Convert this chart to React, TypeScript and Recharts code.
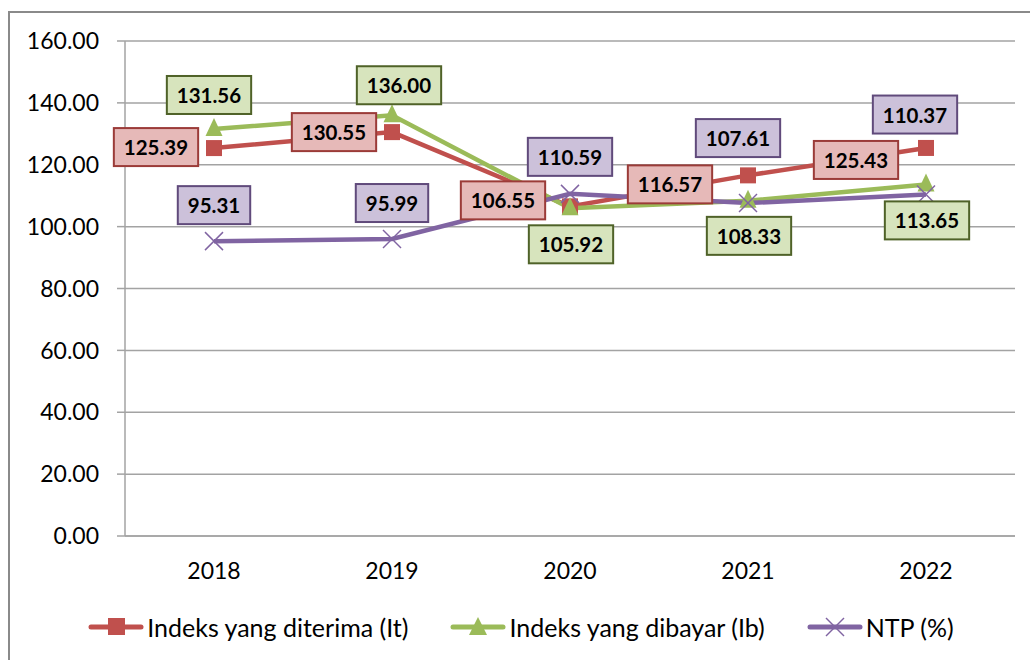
import React from 'react';
import { LineChart, Line, XAxis, YAxis, CartesianGrid, Legend } from 'recharts';

// ---- data ----
const years = ['2018', '2019', '2020', '2021', '2022'];
const indeksDiterima = [125.39, 130.55, 106.55, 116.57, 125.43];
const indeksDibayar = [131.56, 136.0, 105.92, 108.33, 113.65];
const ntpValues = [95.31, 95.99, 110.59, 107.61, 110.37];
const yTicks = [0, 20, 40, 60, 80, 100, 120, 140, 160];
const categoryEdges = [0, 1, 2, 3, 4, 5];
const seriesNames = ['Indeks yang diterima (It)', 'Indeks yang dibayar (Ib)', 'NTP (%)'];

const rows = years.map((year, i) => ({
  year,
  it: indeksDiterima[i],
  ib: indeksDibayar[i],
  ntp: ntpValues[i],
}));

// ---- style ----
const RED = '#C0504D';
const GREEN = '#9BBB59';
const PURPLE = '#8064A2';
const GRID = '#a3a3a3';
const FONT = 'Lato, "Open Sans", sans-serif';

// label box nudges (box centre relative to point), as placed in the original
const redNudge = [[-58, -1], [-58, 0], [-67, -6], [-78, 9], [-70, 12]];
const greenNudge = [[-5, -34], [7, -30], [1, 36], [1, 35], [1, 36]];
const purpleNudge = [[0, -36], [0, -36], [0, -37], [-10, -65], [-11, -80]];

let ctx: CanvasRenderingContext2D | null = null;
function textWidth(s: string, font: string): number {
  if (!ctx) ctx = document.createElement('canvas').getContext('2d');
  if (!ctx) return s.length * 11;
  ctx.font = font;
  return ctx.measureText(s).width;
}

const makeLabel = (fill: string, stroke: string, nudges: number[][], tag: string) => (props: any) => {
  const { x, y, value, index } = props;
  if (x == null || y == null) return null;
  const txt = Number(value).toFixed(2);
  const w = textWidth(txt, 'bold 20.5px Lato') + 20;
  const h = 38;
  const [dx, dy] = nudges[index] || [0, 0];
  const cx = x + dx;
  const cy = y + dy;
  return (
    <g key={`${tag}-${index}`}>
      <rect x={cx - w / 2} y={cy - h / 2} width={w} height={h} fill={fill} stroke={stroke} strokeWidth={2} />
      <text x={cx} y={cy} textAnchor="middle" dominantBaseline="central" fontFamily={FONT} fontWeight="bold" fontSize={20.5} fill="#000">
        {txt}
      </text>
    </g>
  );
};

const SquareDot = (p: any) =>
  p.cx == null ? null : <rect key={`sq-${p.index}`} x={p.cx - 8} y={p.cy - 8} width={16} height={16} fill={RED} />;

const TriangleDot = (p: any) =>
  p.cx == null ? null : (
    <polygon key={`tr-${p.index}`} points={`${p.cx},${p.cy - 11} ${p.cx - 8.5},${p.cy + 7} ${p.cx + 8.5},${p.cy + 7}`} fill={GREEN} />
  );

const CrossDot = (p: any) =>
  p.cx == null ? null : (
    <g key={`cr-${p.index}`} stroke={PURPLE} strokeWidth={1.5}>
      <line x1={p.cx - 9} y1={p.cy - 9} x2={p.cx + 9} y2={p.cy + 9} />
      <line x1={p.cx - 9} y1={p.cy + 9} x2={p.cx + 9} y2={p.cy - 9} />
    </g>
  );

const LegendIcon = ({ color, kind }: { color: string; kind: string }) => (
  <svg width={56} height={24} style={{ display: 'block' }}>
    <line x1={3} y1={12} x2={53} y2={12} stroke={color} strokeWidth={5} strokeLinecap="round" />
    {kind === 'square' && <rect x={20} y={3} width={17} height={17} fill={color} />}
    {kind === 'triangle' && <polygon points="28,2 19,20 37,20" fill={color} />}
    {kind === 'cross' && (
      <g stroke={color} strokeWidth={1.5}>
        <line x1={19} y1={3} x2={37} y2={21} />
        <line x1={19} y1={21} x2={37} y2={3} />
      </g>
    )}
  </svg>
);

const legendItems = [
  { name: seriesNames[0], color: RED, kind: 'square' },
  { name: seriesNames[1], color: GREEN, kind: 'triangle' },
  { name: seriesNames[2], color: PURPLE, kind: 'cross' },
];

const LegendContent = () => (
  <div style={{ display: 'flex', justifyContent: 'center', alignItems: 'center', height: 34, width: 1030, paddingLeft: 12, boxSizing: 'border-box' }}>
    {legendItems.map((it, i) => (
      <div key={it.name} style={{ display: 'flex', alignItems: 'center', marginLeft: i === 0 ? 0 : 42 }}>
        <LegendIcon color={it.color} kind={it.kind} />
        <span style={{ fontFamily: FONT, fontSize: 25, color: '#000', marginLeft: 3, whiteSpace: 'nowrap' }}>{it.name}</span>
      </div>
    ))}
  </div>
);

export default function App() {
  return (
    <div style={{ position: 'fixed', left: 0, top: 0, width: 1030, height: 660, overflow: 'hidden', background: '#fff' }}>
      <div
        style={{
          position: 'absolute',
          left: 8,
          top: 11,
          width: 1100,
          height: 800,
          borderLeft: '2px solid #8a8a8a',
          borderTop: '2px solid #8a8a8a',
        }}
      />
      <div style={{ position: 'absolute', left: 0, top: 0 }}>
        <LineChart width={1030} height={660} data={rows} margin={{ top: 41, right: 15, left: 0, bottom: 16 }}>
          <CartesianGrid vertical={false} stroke={GRID} strokeWidth={1.5} />
          <XAxis
            xAxisId="edge"
            type="number"
            domain={[0, 5]}
            ticks={categoryEdges}
            tick={false}
            tickLine={{ stroke: GRID, strokeWidth: 1.5 }}
            tickSize={8}
            axisLine={false}
            height={0}
            allowDataOverflow
          />
          <XAxis
            dataKey="year"
            padding={{ left: 89, right: 89 }}
            tickLine={false}
            tickSize={8}
            tickMargin={19}
            axisLine={{ stroke: GRID, strokeWidth: 1.5 }}
            tick={{ fill: '#000', fontSize: 23, fontFamily: FONT }}
            height={74}
          />
          <YAxis
            width={125}
            domain={[0, 160]}
            ticks={yTicks}
            tickFormatter={(v: number) => v.toFixed(2)}
            tickSize={8}
            tickMargin={18}
            tickLine={{ stroke: GRID, strokeWidth: 1.5 }}
            axisLine={{ stroke: GRID, strokeWidth: 1.5 }}
            tick={{ fill: '#000', fontSize: 23, fontFamily: FONT }}
          />
          <Legend verticalAlign="bottom" content={<LegendContent />} wrapperStyle={{ left: 0, width: 1030 }} />
          <Line dataKey="it" name={seriesNames[0]} stroke={RED} strokeWidth={4.5} dot={SquareDot} activeDot={false} isAnimationActive={false} />
          <Line dataKey="ib" name={seriesNames[1]} stroke={GREEN} strokeWidth={4.5} dot={TriangleDot} activeDot={false} isAnimationActive={false} />
          <Line dataKey="ntp" name={seriesNames[2]} stroke={PURPLE} strokeWidth={4.5} dot={CrossDot} activeDot={false} isAnimationActive={false} />
          <Line dataKey="it" legendType="none" stroke="none" dot={false} activeDot={false} isAnimationActive={false} label={makeLabel('#E6B9B8', '#9B3B38', redNudge, 'rl')} />
          <Line dataKey="ib" legendType="none" stroke="none" dot={false} activeDot={false} isAnimationActive={false} label={makeLabel('#D7E4BD', '#4F6228', greenNudge, 'gl')} />
          <Line dataKey="ntp" legendType="none" stroke="none" dot={false} activeDot={false} isAnimationActive={false} label={makeLabel('#CCC1DA', '#604A7B', purpleNudge, 'pl')} />
        </LineChart>
      </div>
    </div>
  );
}
